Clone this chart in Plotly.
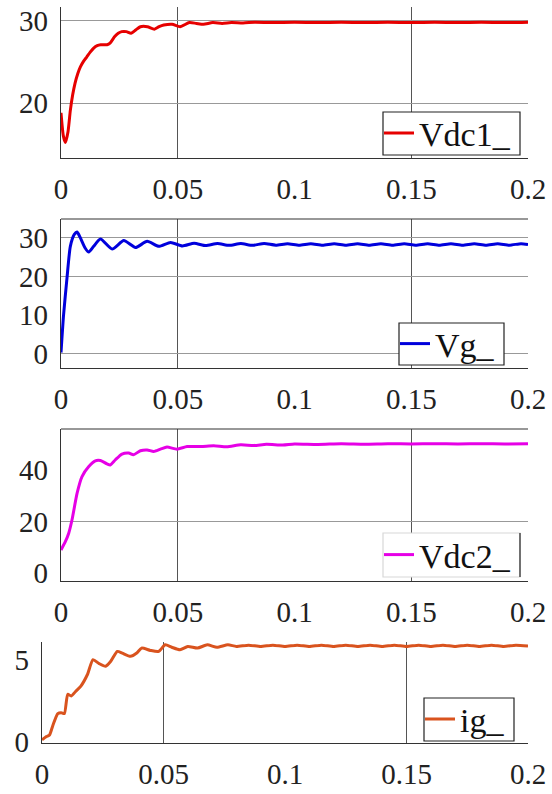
import plotly.graph_objects as go

# ---------------- data ----------------
x_ticks = [0, 0.05, 0.1, 0.15, 0.2]
x_tick_text = ["0", "0.05", "0.1", "0.15", "0.2"]

t_vdc1 = [0, 0.001, 0.0019, 0.003, 0.004, 0.005, 0.006, 0.0072, 0.0083, 0.0097,
          0.011, 0.0125, 0.014, 0.0155, 0.017, 0.0185, 0.0197, 0.021, 0.023, 0.0245,
          0.026, 0.028, 0.030, 0.032, 0.034, 0.037, 0.040, 0.042, 0.044, 0.0476,
          0.051, 0.055, 0.058, 0.061, 0.065, 0.069, 0.073, 0.078, 0.083, 0.09,
          0.1, 0.11, 0.12, 0.13, 0.14, 0.15, 0.16, 0.17, 0.18, 0.19, 0.2]
vdc1 = [18.8, 16.0, 15.2, 16.5, 19.1, 21.0, 22.4, 23.6, 24.4, 25.1,
        25.6, 26.2, 26.7, 27.0, 27.1, 27.1, 27.1, 27.3, 28.1, 28.5,
        28.7, 28.7, 28.5, 28.9, 29.3, 29.3, 29.0, 29.3, 29.5, 29.6,
        29.3, 29.8, 29.7, 29.6, 29.8, 29.7, 29.8, 29.75, 29.85, 29.8,
        29.85, 29.8, 29.85, 29.8, 29.85, 29.8, 29.85, 29.8, 29.85, 29.8, 29.85]

t_vg = [0, 0.0011, 0.0026, 0.004, 0.0057, 0.0069, 0.0083, 0.0104, 0.0119, 0.014,
        0.0169, 0.0219, 0.0269, 0.0319, 0.0369, 0.0419, 0.0469, 0.052, 0.057, 0.062,
        0.067, 0.072, 0.077, 0.082, 0.087, 0.092, 0.097, 0.102, 0.107, 0.112,
        0.117, 0.122, 0.127, 0.132, 0.137, 0.142, 0.147, 0.152, 0.157, 0.162,
        0.167, 0.172, 0.177, 0.182, 0.187, 0.192, 0.197, 0.2]
vg = [0.2, 10.0, 19.8, 27.8, 30.9, 31.5, 30.0, 27.3, 26.3, 27.8,
      29.7, 27.1, 29.3, 27.5, 29.1, 27.8, 28.8, 27.9, 28.6, 28.0,
      28.55, 28.05, 28.55, 28.05, 28.55, 28.1, 28.5, 28.1, 28.5, 28.1,
      28.5, 28.1, 28.5, 28.1, 28.5, 28.1, 28.5, 28.1, 28.5, 28.1,
      28.5, 28.1, 28.5, 28.1, 28.5, 28.1, 28.5, 28.3]

t_vdc2 = [0, 0.0019, 0.0033, 0.0047, 0.0069, 0.009, 0.0119, 0.0147, 0.0169, 0.0197,
          0.0211, 0.0233, 0.0261, 0.029, 0.031, 0.034, 0.0369, 0.0397, 0.0426, 0.0454,
          0.0497, 0.054, 0.06, 0.0654, 0.071, 0.077, 0.0826, 0.088, 0.095, 0.1,
          0.11, 0.12, 0.13, 0.14, 0.15, 0.16, 0.17, 0.18, 0.19, 0.2]
vdc2 = [9.0, 12.3, 15.5, 20.6, 31.0, 37.4, 41.3, 43.5, 43.6, 42.3,
        41.9, 43.9, 46.1, 46.5, 45.8, 47.4, 47.7, 47.1, 48.0, 48.8,
        48.0, 49.0, 49.0, 49.3, 48.9, 49.7, 49.4, 49.9, 49.6, 50.0,
        49.8, 50.1, 49.9, 50.1, 50.0, 50.1, 50.0, 50.1, 50.0, 50.1]

t_ig = [0, 0.0018, 0.0031, 0.0045, 0.0065, 0.0079, 0.0092, 0.0106, 0.012, 0.014,
        0.016, 0.0187, 0.021, 0.0235, 0.0262, 0.0283, 0.031, 0.033, 0.0364, 0.039,
        0.041, 0.0446, 0.048, 0.0507, 0.0534, 0.0568, 0.06, 0.064, 0.068, 0.072,
        0.0765, 0.08, 0.085, 0.09, 0.095, 0.1, 0.105, 0.11, 0.115, 0.12,
        0.125, 0.13, 0.135, 0.14, 0.145, 0.15, 0.155, 0.16, 0.165, 0.17,
        0.175, 0.18, 0.185, 0.19, 0.195, 0.2]
ig = [0.14, 0.34, 0.44, 1.03, 1.73, 1.79, 1.73, 2.9, 2.8, 3.1,
      3.4, 4.1, 5.0, 4.76, 4.6, 4.9, 5.5, 5.4, 5.2, 5.4,
      5.7, 5.56, 5.5, 5.9, 5.75, 5.6, 5.8, 5.7, 5.9, 5.75,
      5.9, 5.8, 5.88, 5.8, 5.88, 5.8, 5.88, 5.8, 5.88, 5.8,
      5.88, 5.8, 5.88, 5.8, 5.88, 5.8, 5.88, 5.8, 5.88, 5.8,
      5.88, 5.8, 5.88, 5.8, 5.88, 5.82]

names = ["Vdc1_", "Vg_", "Vdc2_", "ig_"]
colors = ["#e60000", "#0000dc", "#e600e6", "#d9531e"]
y_ticks = [[20, 30], [0, 10, 20, 30], [0, 20, 40], [0, 5]]
y_grid = [[20, 30], [0, 20, 30], [20], []]
y_ranges = [[13.3, 31.7], [-3.8, 34.9], [-3.0, 55.8], [-0.05, 6.07]]

# ---------------- layout geometry ----------------
W, H = 552, 794
x_dom = [[61 / W, 528 / W]] * 3 + [[42 / W, 528 / W]]
y_px = [(7, 158), (219, 368), (429, 581), (642, 743)]
y_dom = [[1 - b / H, 1 - t / H] for t, b in y_px]
# legend boxes in pixels: left, top, right, bottom
leg_box = [(383, 112, 520, 155), (399, 323, 504, 365),
           (383, 533, 520, 577), (424, 698, 514, 741)]
leg_border = ["#222", "#222", "#d8d8d8", "#222"]
top_line = [False, True, True, False]

FONT = "Liberation Serif, Times New Roman, serif"
series = [(t_vdc1, vdc1), (t_vg, vg), (t_vdc2, vdc2), (t_ig, ig)]

fig = go.Figure()
layout = dict(width=W, height=H, margin=dict(l=0, r=0, t=0, b=0, autoexpand=False),
              paper_bgcolor="white", plot_bgcolor="white", showlegend=True,
              font=dict(family=FONT, size=28, color="#222"))
shapes = []
for i, ((tt, vv), name, col) in enumerate(zip(series, names, colors)):
    k = "" if i == 0 else str(i + 1)
    lg = "legend" if i == 0 else "legend" + str(i + 1)
    fig.add_trace(go.Scatter(
        x=tt, y=vv, mode="lines", name=name,
        line=dict(color=col, width=3, shape="spline", smoothing=0.6),
        xaxis="x" + k, yaxis="y" + k, legend=lg))
    layout["xaxis" + k] = dict(
        domain=x_dom[i], anchor="y" + k, range=[0, 0.2], automargin=False,
        tickmode="array", tickvals=x_ticks, ticktext=x_tick_text,
        showgrid=False, zeroline=False, ticks="",
        minor=dict(tickmode="array", tickvals=[0.05, 0.15], showgrid=True,
                   gridcolor="#555", gridwidth=1, ticks=""),
        showline=True, linecolor="#333", linewidth=1.2,
        tickfont=dict(family=FONT, size=29, color="#222"),
        ticklabelstandoff=5)
    layout["yaxis" + k] = dict(
        domain=y_dom[i], anchor="x" + k, range=y_ranges[i], automargin=False,
        tickmode="array", tickvals=y_ticks[i],
        showgrid=False, zeroline=False, ticks="",
        minor=dict(tickmode="array", tickvals=y_grid[i], showgrid=True,
                   gridcolor="#999", gridwidth=1, ticks=""),
        showline=True, linecolor="#333", linewidth=1.2,
        tickfont=dict(family=FONT, size=29, color="#222"),
        ticklabelstandoff=6)
    l, t, r, b = leg_box[i]
    shapes.append(dict(type="rect", xref="paper", yref="paper", layer="above",
                       x0=l / W, x1=r / W, y0=1 - b / H, y1=1 - t / H,
                       fillcolor="white", line=dict(color=leg_border[i], width=1.2)))
    if i == 2:
        shapes.append(dict(type="line", xref="paper", yref="paper", layer="above",
                           x0=r / W, x1=r / W, y0=1 - b / H, y1=1 - t / H,
                           line=dict(color="#222", width=1.2)))
    layout[lg] = dict(
        x=(l - 4) / W, y=1 - (t + b) / 2 / H, xanchor="left", yanchor="middle",
        bgcolor="rgba(0,0,0,0)", borderwidth=0,
        font=dict(family=FONT, size=34, color="#111"),
        itemwidth=30, tracegroupgap=0)
    if top_line[i]:
        shapes.append(dict(type="line", xref="x" + k + " domain", yref="y" + k + " domain",
                           x0=0, x1=1, y0=1, y1=1, line=dict(color="#333", width=1.2)))
layout["shapes"] = shapes
fig.update_layout(**layout)
fig.write_html("out.html")
